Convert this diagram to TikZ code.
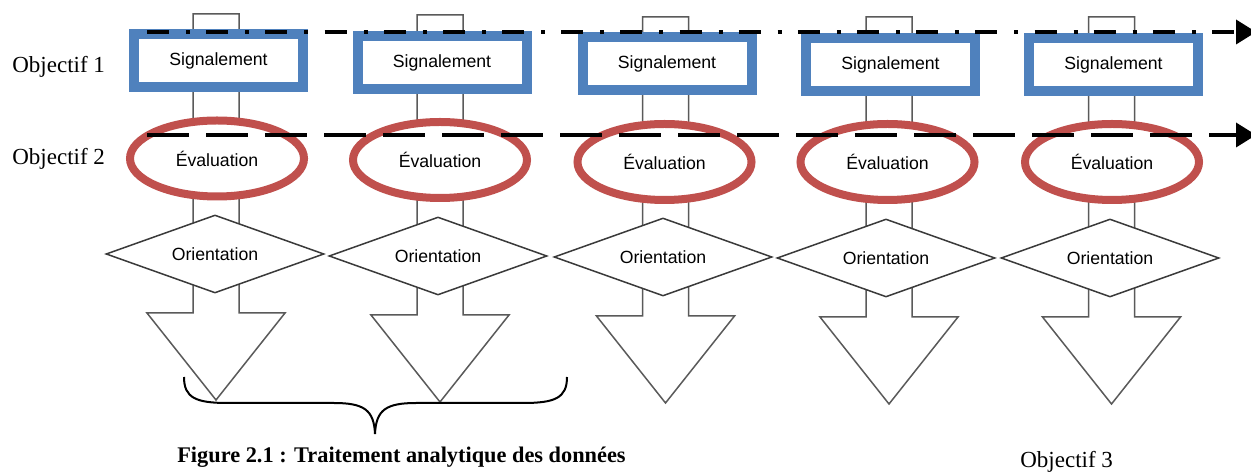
\documentclass[tikz,border=0pt]{standalone}
\usepackage{fontspec}
\setmainfont{Liberation Serif}
\newfontfamily\shapefont{Liberation Sans}
\usetikzlibrary{shapes.geometric}
\definecolor{sigblue}{HTML}{4F81BD}
\definecolor{evalred}{HTML}{C0504D}
\definecolor{pipegray}{HTML}{5A5A5A}
\definecolor{diagray}{HTML}{3A3A3A}
\tikzset{
  pipe/.style={draw=pipegray, fill=white, line width=0.9pt, line join=miter},
  sigbox/.style={draw=sigblue, fill=white, line width=6pt, rectangle,
    minimum width=101.4pt, minimum height=31.8pt, inner sep=0pt,
    font=\shapefont\fontsize{10.6}{12}\selectfont},
  evalbox/.style={draw=evalred, fill=white, line width=4.8pt, ellipse,
    minimum width=104.4pt, minimum height=45.6pt, inner sep=0pt,
    font=\shapefont\fontsize{10.6}{12}\selectfont},
  oribox/.style={draw=diagray, fill=white, line width=0.9pt, diamond, aspect=2.8,
    minimum width=130.8pt, minimum height=46.8pt, inner sep=0pt,
    font=\shapefont\fontsize{10.6}{12}\selectfont},
  dashdotline/.style={line width=2.4pt, dash pattern=on 13.2pt off 10.2pt on 2.4pt off 9.7pt},
  dashline/.style={line width=2.4pt, dash pattern=on 25.2pt off 10.2pt},
  headtip/.style={fill=black},
  objlabel/.style={anchor=base west, inner sep=0pt, font=\fontsize{13.8}{16}\selectfont},
  caption/.style={anchor=base, inner sep=0pt, font=\bfseries\fontsize{13.4}{16}\selectfont},
  bracestroke/.style={line width=1.2pt, black}
}
\begin{document}
\begin{tikzpicture}[x=0.6pt, y=-0.6pt]
  \fill[white] (0,0) rectangle (1251,472);
  \useasboundingbox (0,0) rectangle (1251,472);

  % five stages: shaft/arrow body, then the three step shapes on top
  \foreach \i/\sx/\ty/\sh/\tp/\rx/\ry/\ex/\ey/\dx/\dy in {
      1/216/14/313/400/218.5/60.5/217/158.5/215/254,
      2/440/15/315/402/442/62.5/440/160/438/256,
      3/665.5/17/316/403/667/64/664.5/162/663/257,
      4/889/17/317/404/890.5/64.5/887.5/162/886/258,
      5/1111.5/17/317/404/1113.5/64.5/1112/162/1110/258} {
    \draw[pipe] ({\sx-23},\ty) -- ({\sx+23},\ty) -- ({\sx+23},\sh) -- ({\sx+69},\sh)
      -- (\sx,\tp) -- ({\sx-69},\sh) -- ({\sx-23},\sh) -- cycle;
    \node[sigbox] (sig\i) at (\rx,\ry) {Signalement};
    \node[evalbox] (eva\i) at (\ex,\ey) {Évaluation};
    \node[oribox] (ori\i) at (\dx,\dy) {Orientation};
  }

  % objective lines with their solid triangular heads
  \coordinate (o1s) at (147,32);
  \coordinate (o1e) at (1238,32);
  \coordinate (o2s) at (147,135);
  \coordinate (o2e) at (1238,135);
  \draw[dashdotline] (o1s) -- (o1e);
  \draw[dashline] (o2s) -- (o2e);
  \fill[headtip] (1236,19.5) -- (1256,32) -- (1236,44.5) -- cycle;
  \fill[headtip] (1236,122.5) -- (1256,135) -- (1236,147.5) -- cycle;

  % labels
  \node[objlabel] (obj1) at (12,73) {Objectif 1};
  \node[objlabel] (obj2) at (12,165) {Objectif 2};
  \node[objlabel] (obj3) at (1020,468) {Objectif 3};

  % brace grouping the first two stages
  \coordinate (bl) at (184,377);
  \coordinate (br) at (567,377);
  \coordinate (bt) at (375,434);
  \draw[bracestroke] (bl) .. controls (184,398) and (196,403) .. (228,403)
    -- (334,403) .. controls (364,403) and (374,410) .. (bt)
    .. controls (376,410) and (386,403) .. (416,403)
    -- (523,403) .. controls (555,403) and (567,398) .. (br);

  \node[caption] (cap) at (401.5,462) {Figure 2.1 : Traitement analytique des données};
\end{tikzpicture}
\end{document}
